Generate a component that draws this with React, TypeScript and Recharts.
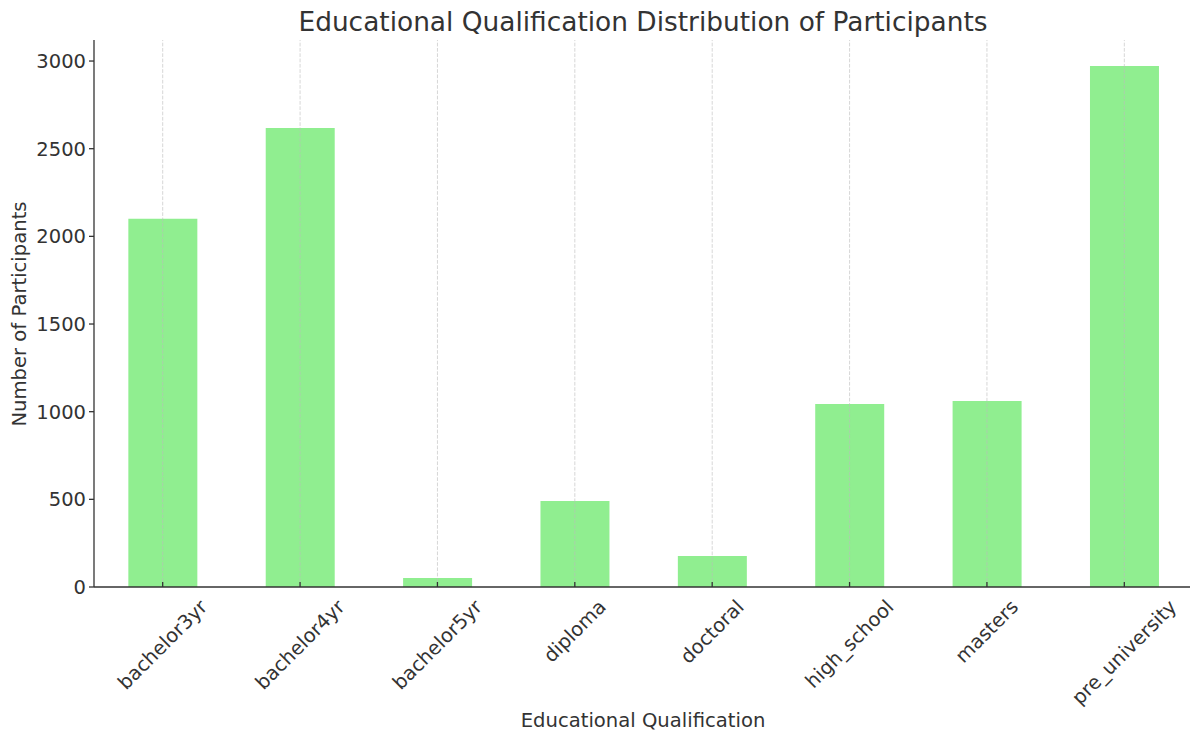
import { Bar, BarChart, ReferenceLine, XAxis, YAxis } from 'recharts';

const categories = ['bachelor3yr', 'bachelor4yr', 'bachelor5yr', 'diploma', 'doctoral', 'high_school', 'masters', 'pre_university'];
const participants = [2100, 2618, 51, 490, 177, 1044, 1061, 2971];
const yTicks = [0, 500, 1000, 1500, 2000, 2500, 3000];

const data = categories.map((name, i) => ({ name, count: participants[i] }));

const FONT = '"DejaVu Sans", Verdana, sans-serif';
const TEXT = '#333333';
const TICK_FS = 19.5;
const LABEL_FS = 19.6;

let ctx: CanvasRenderingContext2D | null = null;
function textWidth(s: string) {
  if (!ctx && typeof document !== 'undefined') ctx = document.createElement('canvas').getContext('2d');
  if (!ctx) return s.length * TICK_FS * 0.6;
  ctx.font = `${TICK_FS}px "DejaVu Sans"`;
  return ctx.measureText(s).width;
}

// matplotlib-style tick: inward mark, label rotated 45deg and centred under the tick
function RotatedTick({ x, y, payload }: any) {
  const w = textWidth(String(payload.value));
  const h = (w + TICK_FS * 0.95) * Math.SQRT1_2;
  const cy = y + 10 + h / 2;
  return (
    <g>
      <line x1={x} y1={y} x2={x} y2={y - 5} stroke={TEXT} strokeWidth={1.3} />
      <text
        x={x}
        y={cy}
        textAnchor="middle"
        dominantBaseline="central"
        transform={`rotate(-45 ${x} ${cy})`}
        fontSize={TICK_FS}
        fontFamily={FONT}
        fill={TEXT}
      >
        {payload.value}
      </text>
    </g>
  );
}

export default function App() {
  return (
    <div style={{ position: 'absolute', left: 0, top: 0, width: 1190, height: 733, overflow: 'hidden', background: '#fff', fontFamily: FONT }}>
      <BarChart width={1193} height={733} data={data} margin={{ top: 40, right: 0, bottom: 0, left: 0 }} barCategoryGap="25%">
        <XAxis
          dataKey="name"
          height={146}
          tickSize={0}
          tickMargin={0}
          tickLine={false}
          interval={0}
          tick={<RotatedTick />}
          axisLine={{ stroke: TEXT, strokeWidth: 1.3 }}
        />
        <YAxis
          width={94}
          domain={[0, 3120]}
          ticks={yTicks}
          allowDataOverflow
          tickSize={5}
          tickMargin={3}
          tick={{ fontSize: TICK_FS, fontFamily: FONT, fill: TEXT }}
          tickLine={{ stroke: TEXT, strokeWidth: 1.3 }}
          axisLine={{ stroke: TEXT, strokeWidth: 1.3 }}
        />
        <Bar dataKey="count" fill="#90ee90" isAnimationActive={false} />
        {categories.map((c) => (
          <ReferenceLine key={c} x={c} stroke="#bbbbbb" strokeOpacity={0.6} strokeDasharray="3.7 1.6" strokeWidth={1} />
        ))}
      </BarChart>
      <div style={{ position: 'absolute', left: 94, width: 1098, top: 5, textAlign: 'center', fontSize: 26.4, color: TEXT, lineHeight: '34px' }}>
        Educational Qualification Distribution of Participants
      </div>
      <div style={{ position: 'absolute', left: 94, width: 1098, top: 708, textAlign: 'center', fontSize: LABEL_FS, color: TEXT, lineHeight: '26px' }}>
        Educational Qualification
      </div>
      <div
        style={{
          position: 'absolute',
          left: 20,
          top: 314,
          transform: 'translate(-50%, -50%) rotate(-90deg)',
          whiteSpace: 'nowrap',
          fontSize: LABEL_FS,
          color: TEXT,
          lineHeight: '26px',
        }}
      >
        Number of Participants
      </div>
    </div>
  );
}
